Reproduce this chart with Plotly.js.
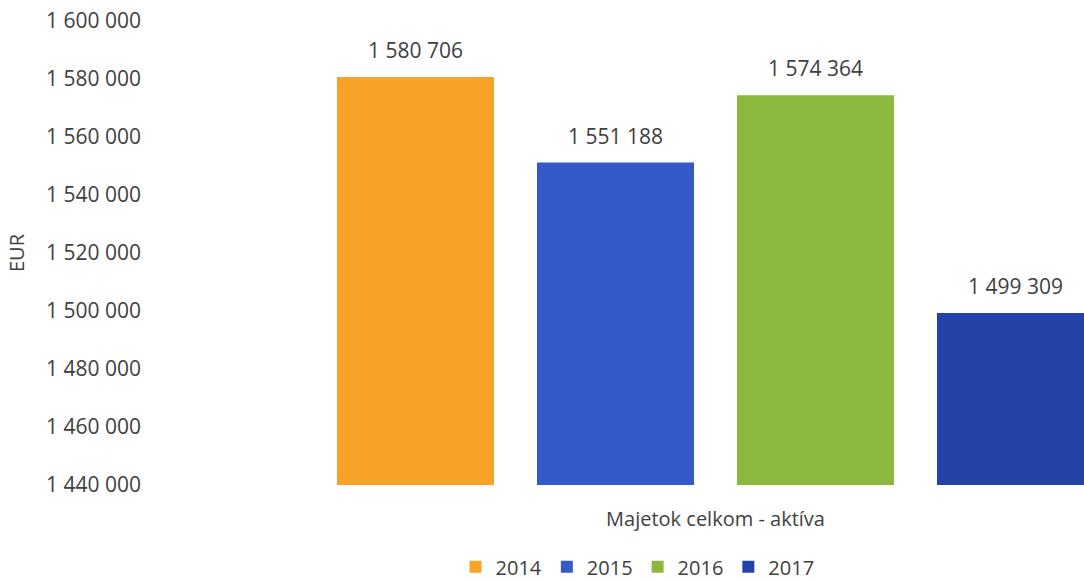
<!DOCTYPE html>
<html>
<head>
<meta charset="utf-8">
<script src="https://cdn.plot.ly/plotly-3.0.1.min.js"></script>
<style>html,body{margin:0;padding:0;background:#fff;}#chart{width:1084px;height:582px;}</style>
</head>
<body>
<div id="chart"></div>
<script>
const category = ["Majetok celkom - aktíva"];
const years = ["2014", "2015", "2016", "2017"];
const values = [1580706, 1551188, 1574364, 1499309];
const colors = ["#F9A228", "#3559C6", "#8CB83E", "#2443A8"];
const yTicks = [1440000, 1460000, 1480000, 1500000, 1520000, 1540000, 1560000, 1580000, 1600000];

const font = "Open Sans, Noto Sans, sans-serif";
const traces = years.map((yr, i) => ({
  type: "bar",
  name: yr,
  x: category,
  y: [values[i]],
  marker: {color: colors[i]},
  texttemplate: "<span style='font-size:21px'>%{y:,}</span><br> ",
  textposition: "outside",
  textfont: {family: font, size: 10, color: "#404040"},
  cliponaxis: false,
  hoverinfo: "skip"
}));

const layout = {
  width: 1084, height: 582,
  margin: {l: 150, r: 0, t: 21, b: 97, autoexpand: false},
  paper_bgcolor: "#fff", plot_bgcolor: "#fff",
  separators: ", ",
  barmode: "group",
  bargap: 0.2,
  bargroupgap: 0.215,
  font: {family: font, color: "#404040"},
  xaxis: {
    range: [-0.5655, 0.3685],
    showgrid: false, zeroline: false, showline: false,
    ticks: "", ticklabelstandoff: 20,
    tickfont: {family: font, size: 20, color: "#404040"}
  },
  yaxis: {
    range: [1440000, 1600000],
    tickvals: yTicks,
    tickformat: ",d",
    showgrid: false, zeroline: false, showline: false,
    ticks: "", ticklabelstandoff: 8,
    tickfont: {family: font, size: 21, color: "#404040"},
    title: {text: "EUR", font: {family: font, size: 20, color: "#404040"}, standoff: 16}
  },
  showlegend: true,
  legend: {
    orientation: "h", x: 0.522, xanchor: "center",
    yref: "container", y: 0.026, yanchor: "middle",
    font: {family: font, size: 20, color: "#404040"},
    traceorder: "normal", itemwidth: 30
  }
};

Plotly.newPlot("chart", traces, layout, {displayModeBar: false, staticPlot: true});
</script>
</body>
</html>
